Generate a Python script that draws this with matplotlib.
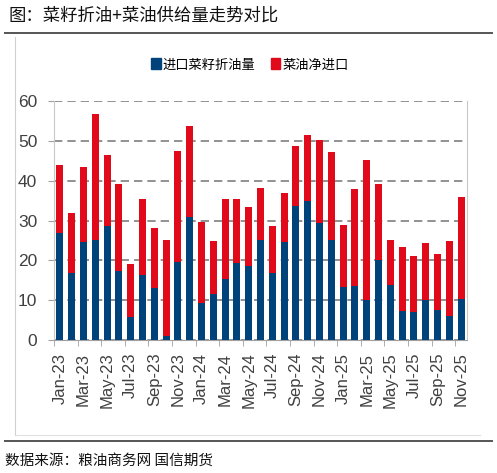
import matplotlib.pyplot as plt
from matplotlib.patches import Rectangle
from matplotlib.lines import Line2D
import numpy as np

plt.rcParams['font.family'] = ['Noto Sans CJK SC', 'DejaVu Sans']

# monthly data, Jan-23 .. Nov-25 (万吨)
months = ['Jan-23', 'Feb-23', 'Mar-23', 'Apr-23', 'May-23', 'Jun-23', 'Jul-23', 'Aug-23',
          'Sep-23', 'Oct-23', 'Nov-23', 'Dec-23', 'Jan-24', 'Feb-24', 'Mar-24', 'Apr-24',
          'May-24', 'Jun-24', 'Jul-24', 'Aug-24', 'Sep-24', 'Oct-24', 'Nov-24', 'Dec-24',
          'Jan-25', 'Feb-25', 'Mar-25', 'Apr-25', 'May-25', 'Jun-25', 'Jul-25', 'Aug-25',
          'Sep-25', 'Oct-25', 'Nov-25']
seed_oil = [26.9, 16.7, 24.7, 25.0, 28.6, 17.4, 5.7, 16.2, 13.1, 1.1, 19.7, 30.8,
            9.3, 11.5, 15.3, 19.3, 18.7, 25.2, 16.7, 24.7, 33.6, 35.0, 29.4, 25.0,
            13.2, 13.6, 10.1, 20.2, 13.9, 7.4, 7.1, 10.1, 7.6, 6.0, 10.3]
total = [44.0, 31.9, 43.5, 56.7, 46.4, 39.2, 19.2, 35.3, 28.2, 25.2, 47.4, 53.8,
         29.7, 24.8, 35.5, 35.3, 33.3, 38.1, 28.7, 37.0, 48.7, 51.4, 50.2, 47.1,
         28.9, 37.8, 45.1, 39.1, 25.0, 23.3, 21.0, 24.4, 21.5, 24.8, 36.0]
net_import = [round(t - s, 1) for t, s in zip(total, seed_oil)]

blue = '#00427A'
red = '#E10A1A'
latin = ['Liberation Sans', 'DejaVu Sans']

fig = plt.figure(figsize=(4.97, 4.73), dpi=100)

# title, rules, frame
fig.text(8 / 497, 1 - 16 / 473, '图：菜籽折油+菜油供给量走势对比', fontsize=12.5,
         va='center', ha='left', color='#111111')
fig.text(5 / 497, 1 - 461 / 473, '数据来源：粮油商务网 国信期货', fontsize=10.5,
         va='center', ha='left', color='#111111')
for yy in (33, 441):
    fig.add_artist(Line2D([5 / 497, 492 / 497], [1 - yy / 473] * 2, color='#555555', lw=1.4))
fig.add_artist(Line2D([15 / 497, 15 / 497], [1 - 37 / 473, 1 - 435 / 473], color='#d0d0d0', lw=0.8))
fig.add_artist(Line2D([15 / 497, 480 / 497], [1 - 435 / 473] * 2, color='#e0e0e0', lw=0.8))

ax = fig.add_axes([54 / 497, 1 - 340 / 473, (467 - 54) / 497, (340 - 101) / 473])
x = np.arange(len(months))
ax.bar(x, seed_oil, width=0.6, color=blue, zorder=3, label='进口菜籽折油量')
ax.bar(x, net_import, width=0.6, bottom=seed_oil, color=red, zorder=3, label='菜油净进口')

ax.set_xlim(-0.5, len(months) - 0.5)
ax.set_ylim(0, 60)
ax.set_yticks(range(0, 61, 10))
ax.yaxis.grid(True, linestyle=(0, (5, 3)), color='#7f7f7f', lw=1.2, zorder=0)
ax.set_xticks(x[::2])
ax.set_xticklabels(months[::2], rotation=90, fontsize=12, color='#404040', family=latin)
ax.set_xticks(np.arange(-0.5, len(months), 2), minor=True)
ax.tick_params(axis='x', which='major', length=0, pad=9)
ax.tick_params(axis='x', which='minor', length=4, color='#a0a0a0')
ax.tick_params(axis='y', length=4, color='#a0a0a0', pad=8, labelsize=12.5, labelcolor='#404040')
for lab in ax.get_yticklabels():
    lab.set_family(latin)
for side in ('left', 'right'):
    ax.spines[side].set_color('#c8c8c8')
    ax.spines[side].set_linewidth(0.8)
ax.spines['top'].set_visible(False)
ax.spines['bottom'].set_color('#a0a0a0')

handles = [Rectangle((0, 0), 1, 1, color=blue), Rectangle((0, 0), 1, 1, color=red)]
fig.legend(handles, ['进口菜籽折油量', '菜油净进口'], loc='center',
           bbox_to_anchor=(250 / 497, 1 - 65 / 473), ncol=2, frameon=False, fontsize=9.5,
           handlelength=0.7, handleheight=0.9, handletextpad=0.15, columnspacing=1.2)

fig.savefig('out.png', dpi=100)
